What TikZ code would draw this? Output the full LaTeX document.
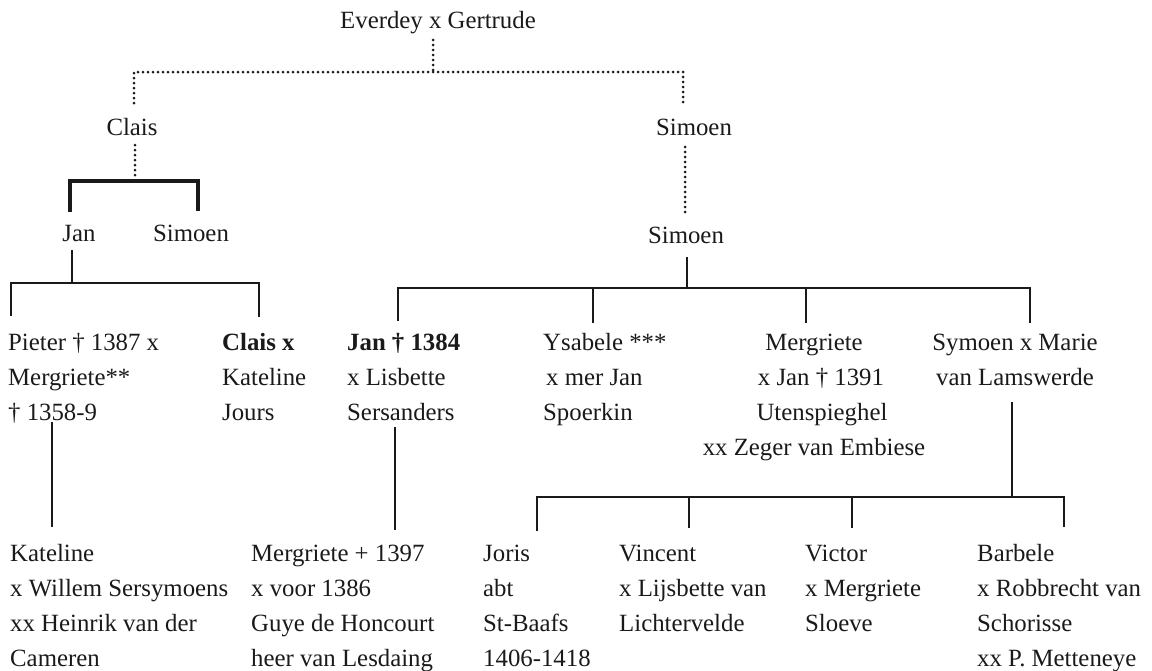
\documentclass[tikz,border=0pt]{standalone}
\usepackage{fontspec}
\setmainfont{Liberation Serif}
\definecolor{ink}{HTML}{1A1A1A}
\newcommand{\rowsL}[1]{\begin{tabular}[t]{@{}l@{}}#1\end{tabular}}
\newcommand{\rowsC}[1]{\begin{tabular}[t]{@{}c@{}}#1\end{tabular}}
\begin{document}
\begin{tikzpicture}[x=1pt,y=-1pt,
  lbl/.style={inner sep=0pt, text=ink, font=\fontsize{24.8}{35}\selectfont},
  blockl/.style={lbl, anchor=base west},
  blockc/.style={lbl, anchor=base},
  dotline/.style={draw=ink, line width=3pt, line cap=round, dash pattern=on 0pt off 5pt},
  solidline/.style={draw=ink, line width=2.9pt},
  heavyline/.style={draw=ink, line width=3.4pt}]
\useasboundingbox (0,0) rectangle (1152,670);

% ---------- nodes ----------
\node[blockc] (everdey) at (438,28) {Everdey x Gertrude};
\node[blockc] (clais)   at (132,135) {Clais};
\node[blockc] (simoenA) at (694,135) {Simoen};
\node[blockc] (jan)     at (79,241) {Jan};
\node[blockc] (simoenB) at (191,241) {Simoen};
\node[blockc] (simoenC) at (686,243) {Simoen};

\node[blockl] (pieter)  at (8,350)   {\rowsL{Pieter † 1387 x\\Mergriete**\\† 1358-9}};
\node[blockl] (claisx)  at (222,350) {\rowsL{\textbf{Clais x}\\Kateline\\Jours}};
\node[blockl] (jan84)   at (347,350) {\rowsL{\textbf{Jan † 1384}\\x Lisbette\\Sersanders}};
\node[blockl] (ysabele) at (543,350) {\rowsL{Ysabele ***\\\hspace{3pt}x mer Jan\\Spoerkin}};
\node[blockc] (mergrA)  at (814,350) {\rowsC{Mergriete\hspace{20pt}\\\hspace{14pt}x Jan † 1391\\\hspace{16pt}Utenspieghel\\xx Zeger van Embiese}};
\node[blockc] (symoen)  at (1015,350) {\rowsC{Symoen x Marie\\van Lamswerde}};

\node[blockl] (kateline) at (10,561)  {\rowsL{Kateline\\x Willem Sersymoens\\xx Heinrik van der\\Cameren}};
\node[blockl] (mergrB)   at (251,561) {\rowsL{Mergriete + 1397\\x voor 1386\\Guye de Honcourt\\heer van Lesdaing}};
\node[blockl] (joris)    at (483,561) {\rowsL{Joris\\abt\\St-Baafs\\1406-1418}};
\node[blockl] (vincent)  at (619,561) {\rowsL{Vincent\\x Lijsbette van\\Lichtervelde}};
\node[blockl] (victor)   at (805,561) {\rowsL{Victor\\x Mergriete\\Sloeve}};
\node[blockl] (barbele)  at (977,561) {\rowsL{Barbele\\x Robbrecht van\\Schorisse\\xx P. Metteneye}};

% ---------- junction coordinates ----------
\coordinate (evTop) at (433,40);
\coordinate (evBar) at (433,72);
\coordinate (barL)  at (134,72);
\coordinate (barR)  at (683,72);
\coordinate (claisIn) at (134,103);
\coordinate (simAIn)  at (683,104);
\coordinate (claisOut) at (135,145);
\coordinate (claisBar) at (135,178);
\coordinate (simAOut) at (685,147);
\coordinate (simCIn)  at (685,215);

\coordinate (cbL) at (70,181);  \coordinate (janIn) at (70,212);
\coordinate (cbR) at (198,181); \coordinate (simBIn) at (198,211);

\coordinate (janOut) at (72,250); \coordinate (janBar) at (72,283);
\coordinate (jbL) at (11,283);  \coordinate (pieterIn) at (11,316);
\coordinate (jbR) at (259,283); \coordinate (claisxIn) at (259,317);

\coordinate (simCOut) at (687,257); \coordinate (simCBar) at (687,288);
\coordinate (sbL) at (398,288); \coordinate (jan84In) at (398,321);
\coordinate (sbY) at (593,288); \coordinate (ysIn) at (593,323);
\coordinate (sbM) at (806,288); \coordinate (mgIn) at (806,323);
\coordinate (sbR) at (1030,288); \coordinate (syIn) at (1030,323);

\coordinate (pieterOut) at (52,422); \coordinate (katIn) at (52,527);
\coordinate (jan84Out) at (395,427); \coordinate (mgBIn) at (395,530);

\coordinate (syOut) at (1012,402); \coordinate (syBar) at (1012,497);
\coordinate (bbL) at (537,497); \coordinate (jorisIn) at (537,531);
\coordinate (bbV) at (689,497); \coordinate (vinIn) at (689,528);
\coordinate (bbW) at (852,497); \coordinate (vicIn) at (852,528);
\coordinate (bbR) at (1064,497); \coordinate (barbIn) at (1064,527);

% ---------- connectors ----------
\draw[dotline] (evTop) -- (evBar);
\draw[dotline] (claisIn) -- (barL) -- (barR) -- (simAIn);
\draw[dotline] (claisOut) -- (claisBar);
\draw[dotline] (simAOut) -- (simCIn);

\draw[heavyline] (janIn) -- (cbL) -- (cbR) -- (simBIn);

\draw[solidline] (janOut) -- (janBar);
\draw[solidline] (pieterIn) -- (jbL) -- (jbR) -- (claisxIn);

\draw[solidline] (simCOut) -- (simCBar);
\draw[solidline] (jan84In) -- (sbL) -- (sbR) -- (syIn);
\draw[solidline] (sbY) -- (ysIn);
\draw[solidline] (sbM) -- (mgIn);

\draw[solidline] (pieterOut) -- (katIn);
\draw[solidline] (jan84Out) -- (mgBIn);

\draw[solidline] (syOut) -- (syBar);
\draw[solidline] (jorisIn) -- (bbL) -- (bbR) -- (barbIn);
\draw[solidline] (bbV) -- (vinIn);
\draw[solidline] (bbW) -- (vicIn);
\end{tikzpicture}
\end{document}
